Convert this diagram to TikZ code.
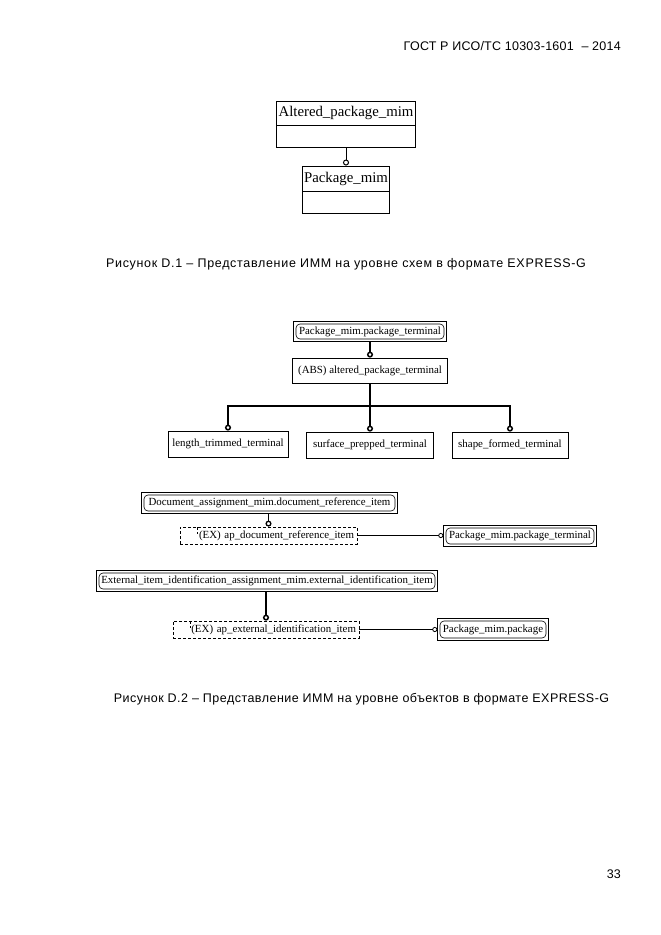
\documentclass[tikz,border=0pt]{standalone}
\usepackage{fontspec}
\setmainfont{Liberation Serif}
\newfontfamily\sansf{Liberation Sans}
\newfontfamily\sansfa[LetterSpace=5.5]{Liberation Sans}
\newfontfamily\sansfb[LetterSpace=3.8]{Liberation Sans}
\newfontfamily\sansfh[LetterSpace=2]{Liberation Sans}
\usetikzlibrary{arrows.meta,fit}
\begin{document}
\begin{tikzpicture}[x=1pt,y=-1pt,
  sanstext/.style={inner sep=0pt, font=\sansf\fontsize{12.5}{14}\selectfont},
  schemabox/.style={draw, line width=0.9pt, inner sep=0pt, font=\fontsize{14.8}{16}\selectfont},
  ebox/.style={draw, line width=0.8pt, inner sep=0pt, font=\fontsize{10.9}{12}\selectfont},
  refin/.style={draw, rounded corners=4pt, line width=0.6pt, inner sep=0pt, font=\fontsize{10.9}{12}\selectfont},
  refout/.style={draw, line width=0.8pt, inner sep=2pt},
  selbox/.style={draw, dash pattern=on 3pt off 2pt, line width=0.8pt, inner xsep=3pt, inner ysep=0pt, align=right, font=\fontsize{10.9}{12}\selectfont,
     path picture={\draw[line width=0.7pt] ([xshift=17pt]path picture bounding box.north west) -- ++(0,-7pt);}},
  thickconn/.style={line width=2pt, -{Circle[open,length=6pt,width=6pt,line width=1.5pt]}},
  medconn/.style={line width=1.4pt, -{Circle[open,length=6pt,width=6pt,line width=1.3pt]}},
  thinconn/.style={line width=0.8pt, -{Circle[open,length=5pt,width=5pt,line width=0.8pt]}},
  schemaconn/.style={line width=1pt, -{Circle[open,length=6pt,width=6pt,line width=1pt]}}
]
\useasboundingbox[fill=white] (0,0) rectangle (661,935);

% header and page number
\node[sanstext, font=\sansfh\fontsize{12.5}{14}\selectfont, anchor=east] (hdr) at (621,46) {ГОСТ Р ИСО/ТС 10303-1601\hspace{4pt} – 2014};
\node[sanstext, anchor=east] (pgn) at (621,874) {33};

% Figure D.1
\node[schemabox, minimum width=139pt, minimum height=24pt] (apm) at (346,113) {Altered\_package\_mim};
\node[schemabox, minimum width=139pt, minimum height=22pt, anchor=north] (apmb) at (apm.south) {};
\node[schemabox, minimum width=87pt, minimum height=25pt] (pm) at (346,178.5) {Package\_mim};
\node[schemabox, minimum width=87pt, minimum height=22pt, anchor=north] (pmb) at (pm.south) {};
\draw[schemaconn] (apmb.south) -- (pm.north);

\node[sanstext, font=\sansfa\fontsize{12.5}{14}\selectfont] (cap1) at (346,264) {Рисунок D.1 – Представление ИММ на уровне схем в формате EXPRESS-G};

% Figure D.2
\node[refin, minimum width=148pt, minimum height=15pt] (pt1i) at (370,331.5) {Package\_mim.package\_terminal};
\node[refout, fit=(pt1i)] (pt1) {};
\node[ebox, minimum width=155pt, minimum height=25pt] (abs) at (370,370.5) {(ABS) altered\_package\_terminal};
\draw[thickconn] (pt1.south) -- (abs.north);

\node[ebox, minimum width=120pt, minimum height=26pt] (lt) at (228,444) {length\_trimmed\_terminal};
\node[ebox, minimum width=127pt, minimum height=26pt] (sp) at (370,445) {surface\_prepped\_terminal};
\node[ebox, minimum width=116pt, minimum height=26pt] (sf) at (510,445) {shape\_formed\_terminal};
\coordinate (j) at (370,406);
\draw[line width=2pt] (abs.south) -- (j);
\draw[thickconn] (j) -| (lt.north);
\draw[thickconn] (j) -- (sp.north);
\draw[thickconn] (j) -| (sf.north);

\node[refin, minimum width=251pt, minimum height=16pt] (drii) at (269.5,503) {Document\_assignment\_mim.document\_reference\_item};
\node[refout, fit=(drii)] (dri) {};
\node[selbox, minimum height=17pt, text width=171pt] (apd) at (268.5,535.5) {(EX) ap\_document\_reference\_item};
\draw[medconn] (apd.north |- dri.south) -- (apd.north);
\node[refin, minimum width=148pt, minimum height=16pt] (pt2i) at (520,536) {Package\_mim.package\_terminal};
\node[refout, fit=(pt2i)] (pt2) {};
\draw[thinconn] (apd.east) -- (apd.east -| pt2.west);

\node[refin, minimum width=336pt, minimum height=16pt] (eiii) at (267,581) {External\_item\_identification\_assignment\_mim.external\_identification\_item};
\node[refout, fit=(eiii)] (eii) {};
\node[selbox, minimum height=17pt, text width=180pt] (ape) at (266,629.5) {(EX) ap\_external\_identification\_item};
\draw[thickconn] (ape.north |- eii.south) -- (ape.north);
\node[refin, minimum width=106pt, minimum height=17pt] (ppi) at (493,629.5) {Package\_mim.package};
\node[refout, fit=(ppi)] (pp) {};
\draw[thinconn] (ape.east) -- (ape.east -| pp.west);

\node[sanstext, font=\sansfb\fontsize{12.5}{14}\selectfont] (cap2) at (361.5,699) {Рисунок D.2 – Представление ИММ на уровне объектов в формате EXPRESS-G};
\end{tikzpicture}
\end{document}
